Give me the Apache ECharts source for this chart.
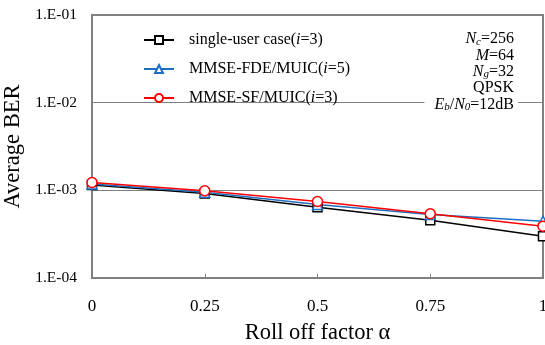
<!DOCTYPE html>
<html>
<head>
<meta charset="utf-8">
<script src="https://cdn.jsdelivr.net/npm/echarts@6/dist/echarts.min.js"></script>
<style>
  html, body { margin: 0; padding: 0; background: #fff; }
  #chart { width: 545px; height: 345px; }
</style>
</head>
<body>
<div id="chart"></div>
<script>
const alphas = [0, 0.25, 0.5, 0.75, 1];
const singleUser = [1.15e-3, 0.92e-3, 0.64e-3, 0.455e-3, 0.30e-3];
const mmseFde = [1.18e-3, 0.95e-3, 0.69e-3, 0.53e-3, 0.445e-3];
const mmseSf = [1.23e-3, 0.99e-3, 0.745e-3, 0.54e-3, 0.39e-3];
const seriesNames = ['single-user case(i=3)', 'MMSE-FDE/MUIC(i=5)', 'MMSE-SF/MUIC(i=3)'];
const legendLabels = {
  'single-user case(i=3)': 'single-user case({it|i}=3)',
  'MMSE-FDE/MUIC(i=5)': 'MMSE-FDE/MUIC({it|i}=5)',
  'MMSE-SF/MUIC(i=3)': 'MMSE-SF/MUIC({it|i}=3)'
};
const yTickLabels = { '-1': '1.E-01', '-2': '1.E-02', '-3': '1.E-03', '-4': '1.E-04' };

const font = '"Liberation Serif", "DejaVu Serif", serif';
const chart = echarts.init(document.getElementById('chart'));

function pairs(ys) { return alphas.map((a, i) => [a, ys[i]]); }

chart.setOption({
  animation: false,
  textStyle: { fontFamily: font },
  grid: { left: 92, right: 2, top: 15, bottom: 67, show: true, borderColor: '#808080', borderWidth: 2,
    containLabel: false, outerBoundsMode: 'none' },
  legend: {
    orient: 'vertical',
    left: 138,
    top: 27,
    itemWidth: 30,
    itemHeight: 10,
    itemGap: 13,
    data: seriesNames,
    formatter: n => legendLabels[n],
    textStyle: {
      fontFamily: font, fontSize: 16, color: '#000', padding: [0, 0, 0, 10],
      rich: { it: { fontFamily: font, fontSize: 16, fontStyle: 'italic', color: '#000' } }
    }
  },
  xAxis: {
    type: 'value', min: 0, max: 1, interval: 0.25,
    name: 'Roll off factor α', nameLocation: 'middle', nameGap: 44,
    nameTextStyle: { fontFamily: font, fontSize: 22.5, color: '#000' },
    axisLine: { lineStyle: { color: '#808080', width: 2 } },
    axisTick: { inside: true, length: 4, lineStyle: { color: '#808080' } },
    axisLabel: { margin: 20, fontSize: 17, color: '#000', fontFamily: font,
      formatter: v => String(v) },
    splitLine: { show: false }
  },
  yAxis: {
    type: 'log', logBase: 10, min: 1e-4, max: 1e-1,
    name: 'Average BER', nameLocation: 'middle', nameGap: 64, nameRotate: 90,
    nameTextStyle: { fontFamily: font, fontSize: 22.5, color: '#000' },
    axisLine: { lineStyle: { color: '#808080', width: 2 } },
    axisTick: { show: false },
    axisLabel: { margin: 15, fontSize: 15.5, color: '#000', fontFamily: font,
      formatter: v => yTickLabels[String(Math.round(Math.log10(v)))] || '' },
    splitLine: { lineStyle: { color: '#808080', width: 1 } }
  },
  graphic: [{
    type: 'text', right: 27, top: 29, z: 10,
    style: {
      text: '{n|N}{s|c}{t|=256}\n{n|M}{t|=64}\n{n|N}{s|g}{t|=32}\n{t|QPSK}\n{n|E}{s|b}{t|/}{n|N}{s|0}{t|=12dB}',
      align: 'right',
      backgroundColor: '#fff',
      padding: [2, 4, 2, 10],
      rich: {
        t: { fontFamily: font, fontSize: 16, color: '#000', lineHeight: 16.3, align: 'right' },
        n: { fontFamily: font, fontSize: 16, fontStyle: 'italic', color: '#000', lineHeight: 16.3, align: 'right' },
        s: { fontFamily: font, fontSize: 11, fontStyle: 'italic', color: '#000', lineHeight: 16.3, align: 'right', verticalAlign: 'bottom', padding: [6, 0, 0, 0] }
      }
    }
  }],
  series: [
    { name: seriesNames[0], type: 'line', data: pairs(singleUser),
      symbol: 'rect', symbolSize: 9, showAllSymbol: true,
      lineStyle: { color: '#000', width: 1.5 },
      itemStyle: { color: '#fff', borderColor: '#000', borderWidth: 1.5 } },
    { name: seriesNames[1], type: 'line', data: pairs(mmseFde),
      symbol: 'triangle', symbolSize: 10,
      lineStyle: { color: '#1f6fc0', width: 1.5 },
      itemStyle: { color: '#fff', borderColor: '#1f6fc0', borderWidth: 1.5 } },
    { name: seriesNames[2], type: 'line', data: pairs(mmseSf),
      symbol: 'circle', symbolSize: 10,
      lineStyle: { color: '#ff0000', width: 1.5 },
      itemStyle: { color: '#fff', borderColor: '#ff0000', borderWidth: 1.5 } }
  ]
});
window.addEventListener('resize', function(){ chart.resize(); });
</script>
</body>
</html>
